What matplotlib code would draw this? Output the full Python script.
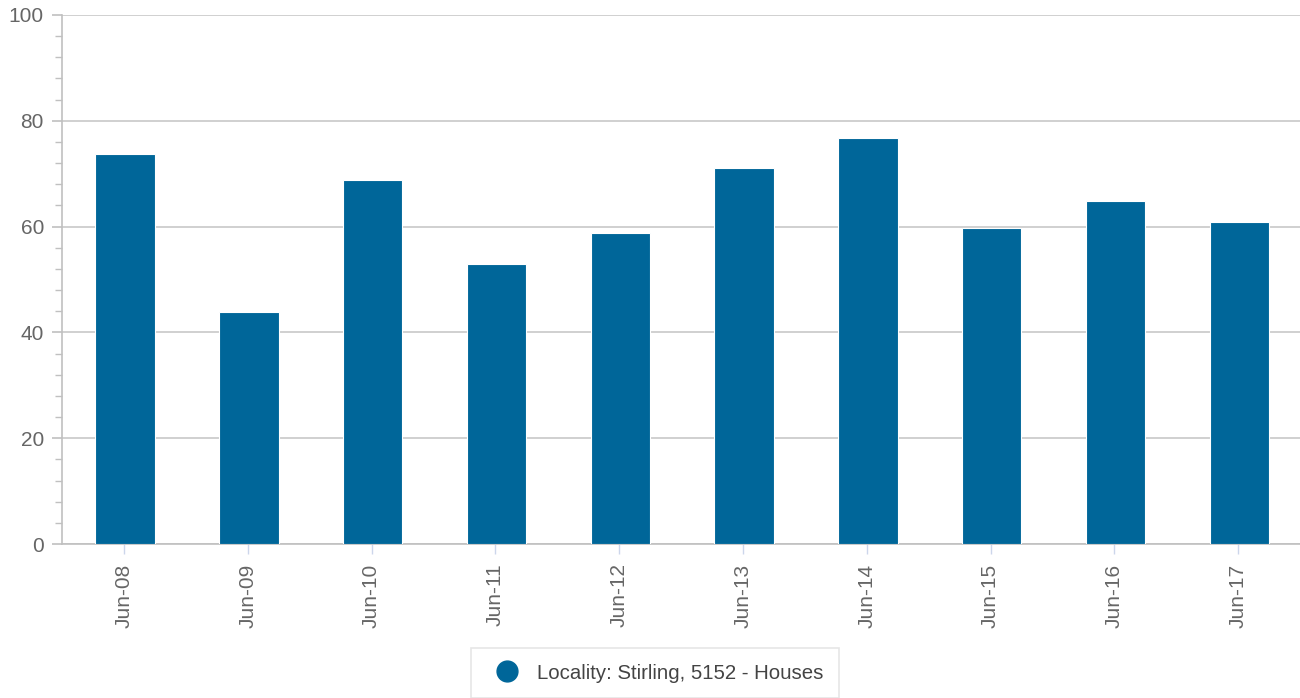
import matplotlib
matplotlib.use("Agg")
import matplotlib.pyplot as plt
from matplotlib.lines import Line2D
from matplotlib.ticker import MultipleLocator

plt.rcParams['font.family'] = ['Liberation Sans', 'DejaVu Sans']

categories = ["Jun-08", "Jun-09", "Jun-10", "Jun-11", "Jun-12",
              "Jun-13", "Jun-14", "Jun-15", "Jun-16", "Jun-17"]
values = [73.8, 43.9, 68.8, 53.0, 58.7, 71.0, 76.7, 59.8, 64.8, 60.9]
series_name = "Locality: Stirling, 5152 - Houses"
bar_color = "#006699"

fig = plt.figure(figsize=(13, 6.98), dpi=100)
ax = fig.add_axes([62/1300, 1-544/698, 1-62/1300, (544-15)/698])

x = list(range(len(categories)))
ax.bar([i + 0.01 for i in x], values, width=0.48, color=bar_color,
       edgecolor="white", linewidth=0.8, zorder=3)

ax.set_xlim(-0.5, len(categories)-0.5)
ax.set_ylim(0, 100)
ax.yaxis.set_major_locator(MultipleLocator(20))
ax.yaxis.set_minor_locator(MultipleLocator(4))
ax.grid(axis='y', which='major', color='#c8c8c8', linewidth=1.2, zorder=0)

for s in ['top', 'right']:
    ax.spines[s].set_visible(False)
ax.spines['left'].set_color('#c0c0c0')
ax.spines['bottom'].set_color('#c0c0c0')
ax.spines['left'].set_linewidth(1.2)
ax.spines['bottom'].set_linewidth(1.2)

ax.set_xticks(x)
ax.set_xticklabels(categories, rotation=90, color='#666666', fontsize=15)
ax.tick_params(axis='x', length=7, width=1, color='#ccd6eb', pad=7)
ax.tick_params(axis='y', which='major', length=7, width=1.2, color='#c0c0c0',
               labelcolor='#666666', labelsize=15, pad=6)
ax.tick_params(axis='y', which='minor', length=5, width=1, color='#c0c0c0')

handle = Line2D([], [], marker='o', linestyle='none', markersize=15,
                markerfacecolor=bar_color, markeredgecolor=bar_color)
leg = fig.legend([handle], [series_name], loc='upper center',
                 bbox_to_anchor=(655/1300, 1-638/698), frameon=True,
                 fontsize=14.7, handletextpad=0.5, borderpad=0.75,
                 fancybox=False, labelcolor='#444444')
leg.get_frame().set_edgecolor('#e0e0e0')
leg.get_frame().set_linewidth(1.2)

fig.savefig("out.png", dpi=100)
